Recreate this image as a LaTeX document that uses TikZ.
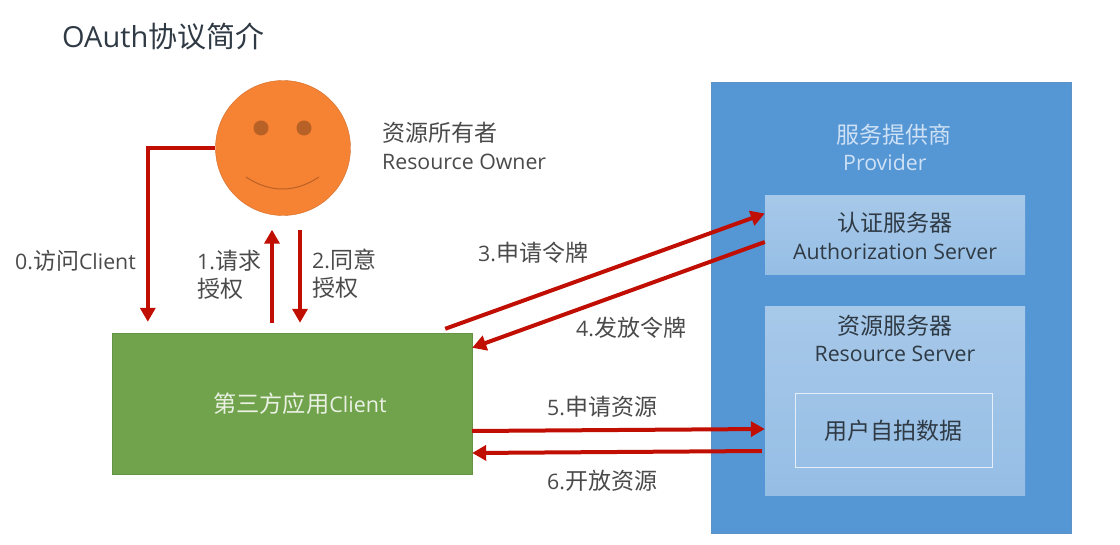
\documentclass[tikz,border=0pt]{standalone}
\usepackage{fontspec}
\setmainfont{Open Sans}
\newfontfamily\cjk[Scale=1.08]{Noto Sans CJK SC}
\newfontfamily\cjktitle{Noto Sans CJK SC}
\usetikzlibrary{arrows.meta}
\definecolor{flowred}{HTML}{C00F02}
\definecolor{inkgray}{HTML}{4A4A4A}
\definecolor{darkink}{HTML}{2F3A45}
\definecolor{providerblue}{HTML}{5596D5}
\definecolor{paleblue}{HTML}{CFE1F5}
\definecolor{clientgreen}{HTML}{70A34B}
\definecolor{faceorange}{HTML}{F68233}
\begin{document}
\begin{tikzpicture}[
    x=1pt, y=-1pt,
    flow/.style={draw=flowred, line width=4pt, -{Triangle[length=14pt,width=15pt]}},
    label/.style={font=\fontsize{21.3}{28}\selectfont, text=inkgray, align=left, anchor=west, inner sep=0pt},
    box/.style={inner sep=0pt, align=center, text=darkink, font=\fontsize{21.3}{28}\selectfont},
    server/.style={box, minimum width=260pt, top color=white!48!providerblue, bottom color=white!38!providerblue},
    eye/.style={circle, fill=faceorange!75!black, inner sep=0pt, minimum size=15pt},
  ]
    \useasboundingbox (0,0) rectangle (1120,545);
    \node[label, font=\fontsize{29}{34}\selectfont, text=darkink] (title) at (62,36) {OAuth{\cjktitle 协议简介}};
    \node[box, fill=providerblue, draw=providerblue!80!gray, minimum width=360pt, minimum height=451pt] (provider) at (891.5,307.5) {};
    \node[server, minimum height=79pt] (auth) at (895,235.5) {{\cjk 认证服务器}\\Authorization Server};
    \node[server, minimum height=188pt] (res) at (895,401) {};
    \node[box, draw=white!85!providerblue, line width=1pt, minimum width=197pt, minimum height=73pt] (data) at (893.5,430.5) {\cjk 用户自拍数据};
    \node[box, fill=clientgreen, draw=clientgreen!90!black, minimum width=360pt, minimum height=141pt, text=white!85!clientgreen, font=\fontsize{21.5}{26}\selectfont] (client) at (292,403.5) {\hspace{16pt}{\cjk 第三方应用}Client};
    \node[circle, fill=faceorange, draw=faceorange!85!black, inner sep=0pt, minimum size=135pt] (owner) at (283,148) {};
    \node[eye] (lefteye) at (261,128) {};
    \node[eye] (righteye) at (304,128) {};
    \coordinate (smileL) at (246,177);
    \coordinate (smileR) at (319,177);
    \draw[faceorange!75!black, line width=1pt] (smileL) .. controls (270,193) and (295,193) .. (smileR);
    \node[label] (ownerzh) at (382,133) {\cjk 资源所有者};     \node[label] (owneren) at (382,162) {Resource Owner};
    \node[box, text=paleblue, anchor=west] (providerzh) at (836,135) {\cjk 服务提供商};  \node[box, text=paleblue, anchor=west] (provideren) at (843,163) {Provider};
    \node[box] (reszh) at (895,326) {\cjk 资源服务器};      \node[box] (resen) at (895,354) {Resource Server};
    \node[label] (l0) at (15,261) {0.{\cjk 访问}Client};
    \node[label] (l1) at (197,274.5) {1.{\cjk 请求}\\{\cjk 授权}};
    \node[label] (l2) at (312,273.5) {2.{\cjk 同意}\\{\cjk 授权}};
    \node[label] (l3) at (478,253) {3.{\cjk 申请令牌}};
    \node[label] (l4) at (576,328) {4.{\cjk 发放令牌}};
    \node[label] (l5) at (547,407) {5.{\cjk 申请资源}};
    \node[label] (l6) at (547,481) {6.{\cjk 开放资源}};
    \draw[flow] (owner.west) -| ([xshift=36pt,yshift=11pt]client.north west);
    \draw[flow] ([xshift=-20pt,yshift=10pt]client.north) -- ([xshift=-11pt,yshift=-14pt]owner.south);
    \draw[flow] ([xshift=17pt,yshift=-14pt]owner.south) -- ([xshift=8pt,yshift=10pt]client.north);
    \draw[flow] ([xshift=-27pt,yshift=4pt]client.north east) -- ([yshift=22pt]auth.west);
    \draw[flow] ([yshift=-6.5pt]auth.west) -- ([yshift=-15pt]client.north east);
    \draw[flow] ([yshift=-27.5pt]client.east) -- ([yshift=-28pt]res.west);
    \draw[flow] ([xshift=-3pt,yshift=-50pt]res.west) -- ([yshift=-49.5pt]client.east);
  \end{tikzpicture}
\end{document}
